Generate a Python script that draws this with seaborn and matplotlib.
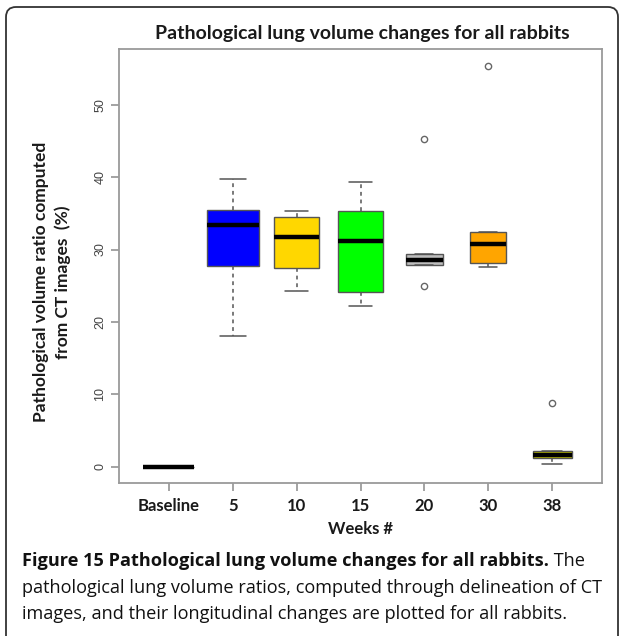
import numpy as np
import pandas as pd
import seaborn as sns
import matplotlib
matplotlib.use("Agg")
import matplotlib.pyplot as plt
from matplotlib.patches import FancyBboxPatch
from matplotlib.transforms import IdentityTransform

# ---- data ----
categories = ["Baseline", "5", "10", "15", "20", "30", "38"]
baseline = [0.0, 0.0, 0.0, 0.0, 0.0, 0.0, 0.0, 0.0, 0.0]
week5 = [18.1, 24.5, 27.7, 30.5, 33.4, 34.6, 35.5, 37.2, 39.8]
week10 = [24.3, 26.9, 28.1, 31.8, 34.2, 34.8, 35.3]
week15 = [22.2, 23.6, 24.8, 31.2, 34.6, 36.0, 39.3]
week20 = [25.0, 27.8, 28.5, 29.4, 45.3]
week30 = [27.6, 28.2, 30.8, 32.4, 55.4]
week38 = [0.4, 1.2, 1.6, 2.2, 8.8]
groups = [baseline, week5, week10, week15, week20, week30, week38]
box_colors = ["#FFFFFF", "#0000FF", "#FFD700", "#00FF00", "#BEBEBE", "#FFA500", "#CDCD00"]
box_widths = [0.80, 0.81, 0.70, 0.71, 0.57, 0.57, 0.61]
yticks = [0, 10, 20, 30, 40, 50]

W, H = 621, 636
sns.set_style("white")
plt.rcParams["font.family"] = ["Lato", "DejaVu Sans"]

fig = plt.figure(figsize=(W / 100, H / 100), dpi=100)
fig.patch.set_facecolor("white")

def fx(px):
    return px / W

def fy(py):
    return 1 - py / H

left, right, top, bottom = 119, 602, 49, 482.7
ax = fig.add_axes([fx(left), fy(bottom), (right - left) / W, (bottom - top) / H])

for cat, vals, col, w in zip(categories, groups, box_colors, box_widths):
    sns.boxplot(
        x=[cat] * len(vals), y=vals, order=categories, ax=ax,
        width=w, color=col, saturation=1, linecolor="#555555", linewidth=1.0,
        whis=1.5,
        medianprops=dict(color="black", linewidth=3.2),
        whiskerprops=dict(color="#555555", linestyle=(0, (2.5, 2.5)), linewidth=1.1),
        capprops=dict(color="#555555", linewidth=1.1),
        flierprops=dict(marker="o", markerfacecolor="none", markeredgecolor="#666666",
                        markersize=4.5, markeredgewidth=1.0),
    )

ax.set_xlim(-0.78, 6.78)
ax.set_ylim(-2.2, 57.7)
ax.set_yticks(yticks)
ax.set_yticklabels([str(t) for t in yticks], rotation=90, va="center",
                   fontfamily="Liberation Sans", fontsize=9, color="#444444")
ax.set_xticks(range(len(categories)))
ax.set_xticklabels(categories, fontweight="bold", fontsize=12, color="#1a1a1a")
ax.set_xlabel("")
ax.set_ylabel("")
for s in ax.spines.values():
    s.set_visible(True)
    s.set_color("#9a9a9a")
    s.set_linewidth(1.3)
ax.tick_params(axis="both", which="both", direction="out", length=6, width=1.1,
               color="#8a8a8a", left=True, bottom=True)
ax.tick_params(axis="x", pad=5)
ax.tick_params(axis="y", pad=3)

# titles / labels
fig.text(fx(362), fy(33), "Pathological lung volume changes for all rabbits",
         ha="center", va="center", fontsize=14, fontweight="bold", color="#1a1a1a")
fig.text(fx(52), fy(282), "Pathological volume ratio computed\nfrom CT images  (%)",
         ha="center", va="center", rotation=90, fontsize=12.5, fontweight="bold",
         color="#1a1a1a", linespacing=1.35, multialignment="center")
fig.text(fx(360), fy(529), "Weeks #", ha="center", va="center", fontsize=12,
         fontweight="bold", color="#1a1a1a")

# caption
cap_font = ["Open Sans", "DejaVu Sans"]
cap_size = 13.1
t1 = fig.text(fx(22), fy(561), "Figure 15 Pathological lung volume changes for all rabbits.",
              ha="left", va="center", fontsize=cap_size, fontweight="bold",
              family=cap_font, color="#111111")
fig.canvas.draw()
bb = t1.get_window_extent(renderer=fig.canvas.get_renderer())
fig.text(bb.x1 / W, fy(561), " The", ha="left", va="center", fontsize=cap_size,
         family=cap_font, color="#111111")
fig.text(fx(22), fy(588), "pathological lung volume ratios, computed through delineation of CT",
         ha="left", va="center", fontsize=cap_size, family=cap_font, color="#111111")
fig.text(fx(22), fy(614), "images, and their longitudinal changes are plotted for all rabbits.",
         ha="left", va="center", fontsize=cap_size, family=cap_font, color="#111111")

# outer rounded frame
frame = FancyBboxPatch((6, -30), 612, H - 7 + 30, boxstyle="round,pad=0,rounding_size=10",
                       transform=IdentityTransform(), fill=False, edgecolor="#333333",
                       linewidth=1.3)
fig.patches.append(frame)

fig.savefig("out.png", dpi=100)
